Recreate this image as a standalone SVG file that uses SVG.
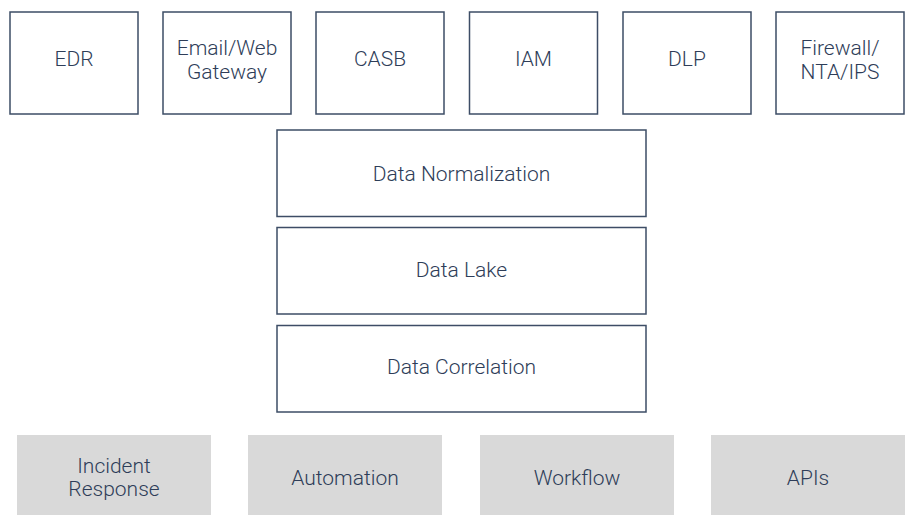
<svg xmlns="http://www.w3.org/2000/svg" width="908" height="515" viewBox="0 0 908 515">
<style>
.box{fill:#ffffff;stroke:#3d4d66;stroke-width:1.5}
.gbox{fill:#d9d9d9;stroke:none}
text{font-family:Roboto,"Liberation Sans",Arial,sans-serif;font-weight:300;font-size:21px;fill:#2e3d58;text-anchor:middle}
</style>
<rect width="908" height="515" fill="#ffffff"/>
<g id="edr"><rect class="box" x="10" y="12" width="128" height="102"/><text x="74" y="66">EDR</text></g>
<g id="email-web-gateway"><rect class="box" x="163" y="12" width="128" height="102"/><text x="227" y="55">Email/Web</text><text x="227" y="79">Gateway</text></g>
<g id="casb"><rect class="box" x="316" y="12" width="128" height="102"/><text x="380" y="66">CASB</text></g>
<g id="iam"><rect class="box" x="469.5" y="12" width="128" height="102"/><text x="533.5" y="66">IAM</text></g>
<g id="dlp"><rect class="box" x="623" y="12" width="128" height="102"/><text x="687" y="66">DLP</text></g>
<g id="firewall"><rect class="box" x="776" y="12" width="128" height="102"/><text x="840" y="55">Firewall/</text><text x="840" y="79">NTA/IPS</text></g>
<g id="data-normalization"><rect class="box" x="277" y="130" width="369" height="86.5"/><text x="461.5" y="180.5">Data Normalization</text></g>
<g id="data-lake"><rect class="box" x="277" y="227.5" width="369" height="86.5"/><text x="461.5" y="277">Data Lake</text></g>
<g id="data-correlation"><rect class="box" x="277" y="325.5" width="369" height="86.5"/><text x="461.5" y="374">Data Correlation</text></g>
<g id="incident-response"><rect class="gbox" x="17" y="435" width="194" height="80"/><text x="114" y="473">Incident</text><text x="114" y="496">Response</text></g>
<g id="automation"><rect class="gbox" x="248" y="435" width="194" height="80"/><text x="345" y="484.5">Automation</text></g>
<g id="workflow"><rect class="gbox" x="480" y="435" width="194" height="80"/><text x="577" y="484.5">Workflow</text></g>
<g id="apis"><rect class="gbox" x="711" y="435" width="194" height="80"/><text x="808" y="484.5">APIs</text></g>
<g id="connectors"></g>
</svg>
